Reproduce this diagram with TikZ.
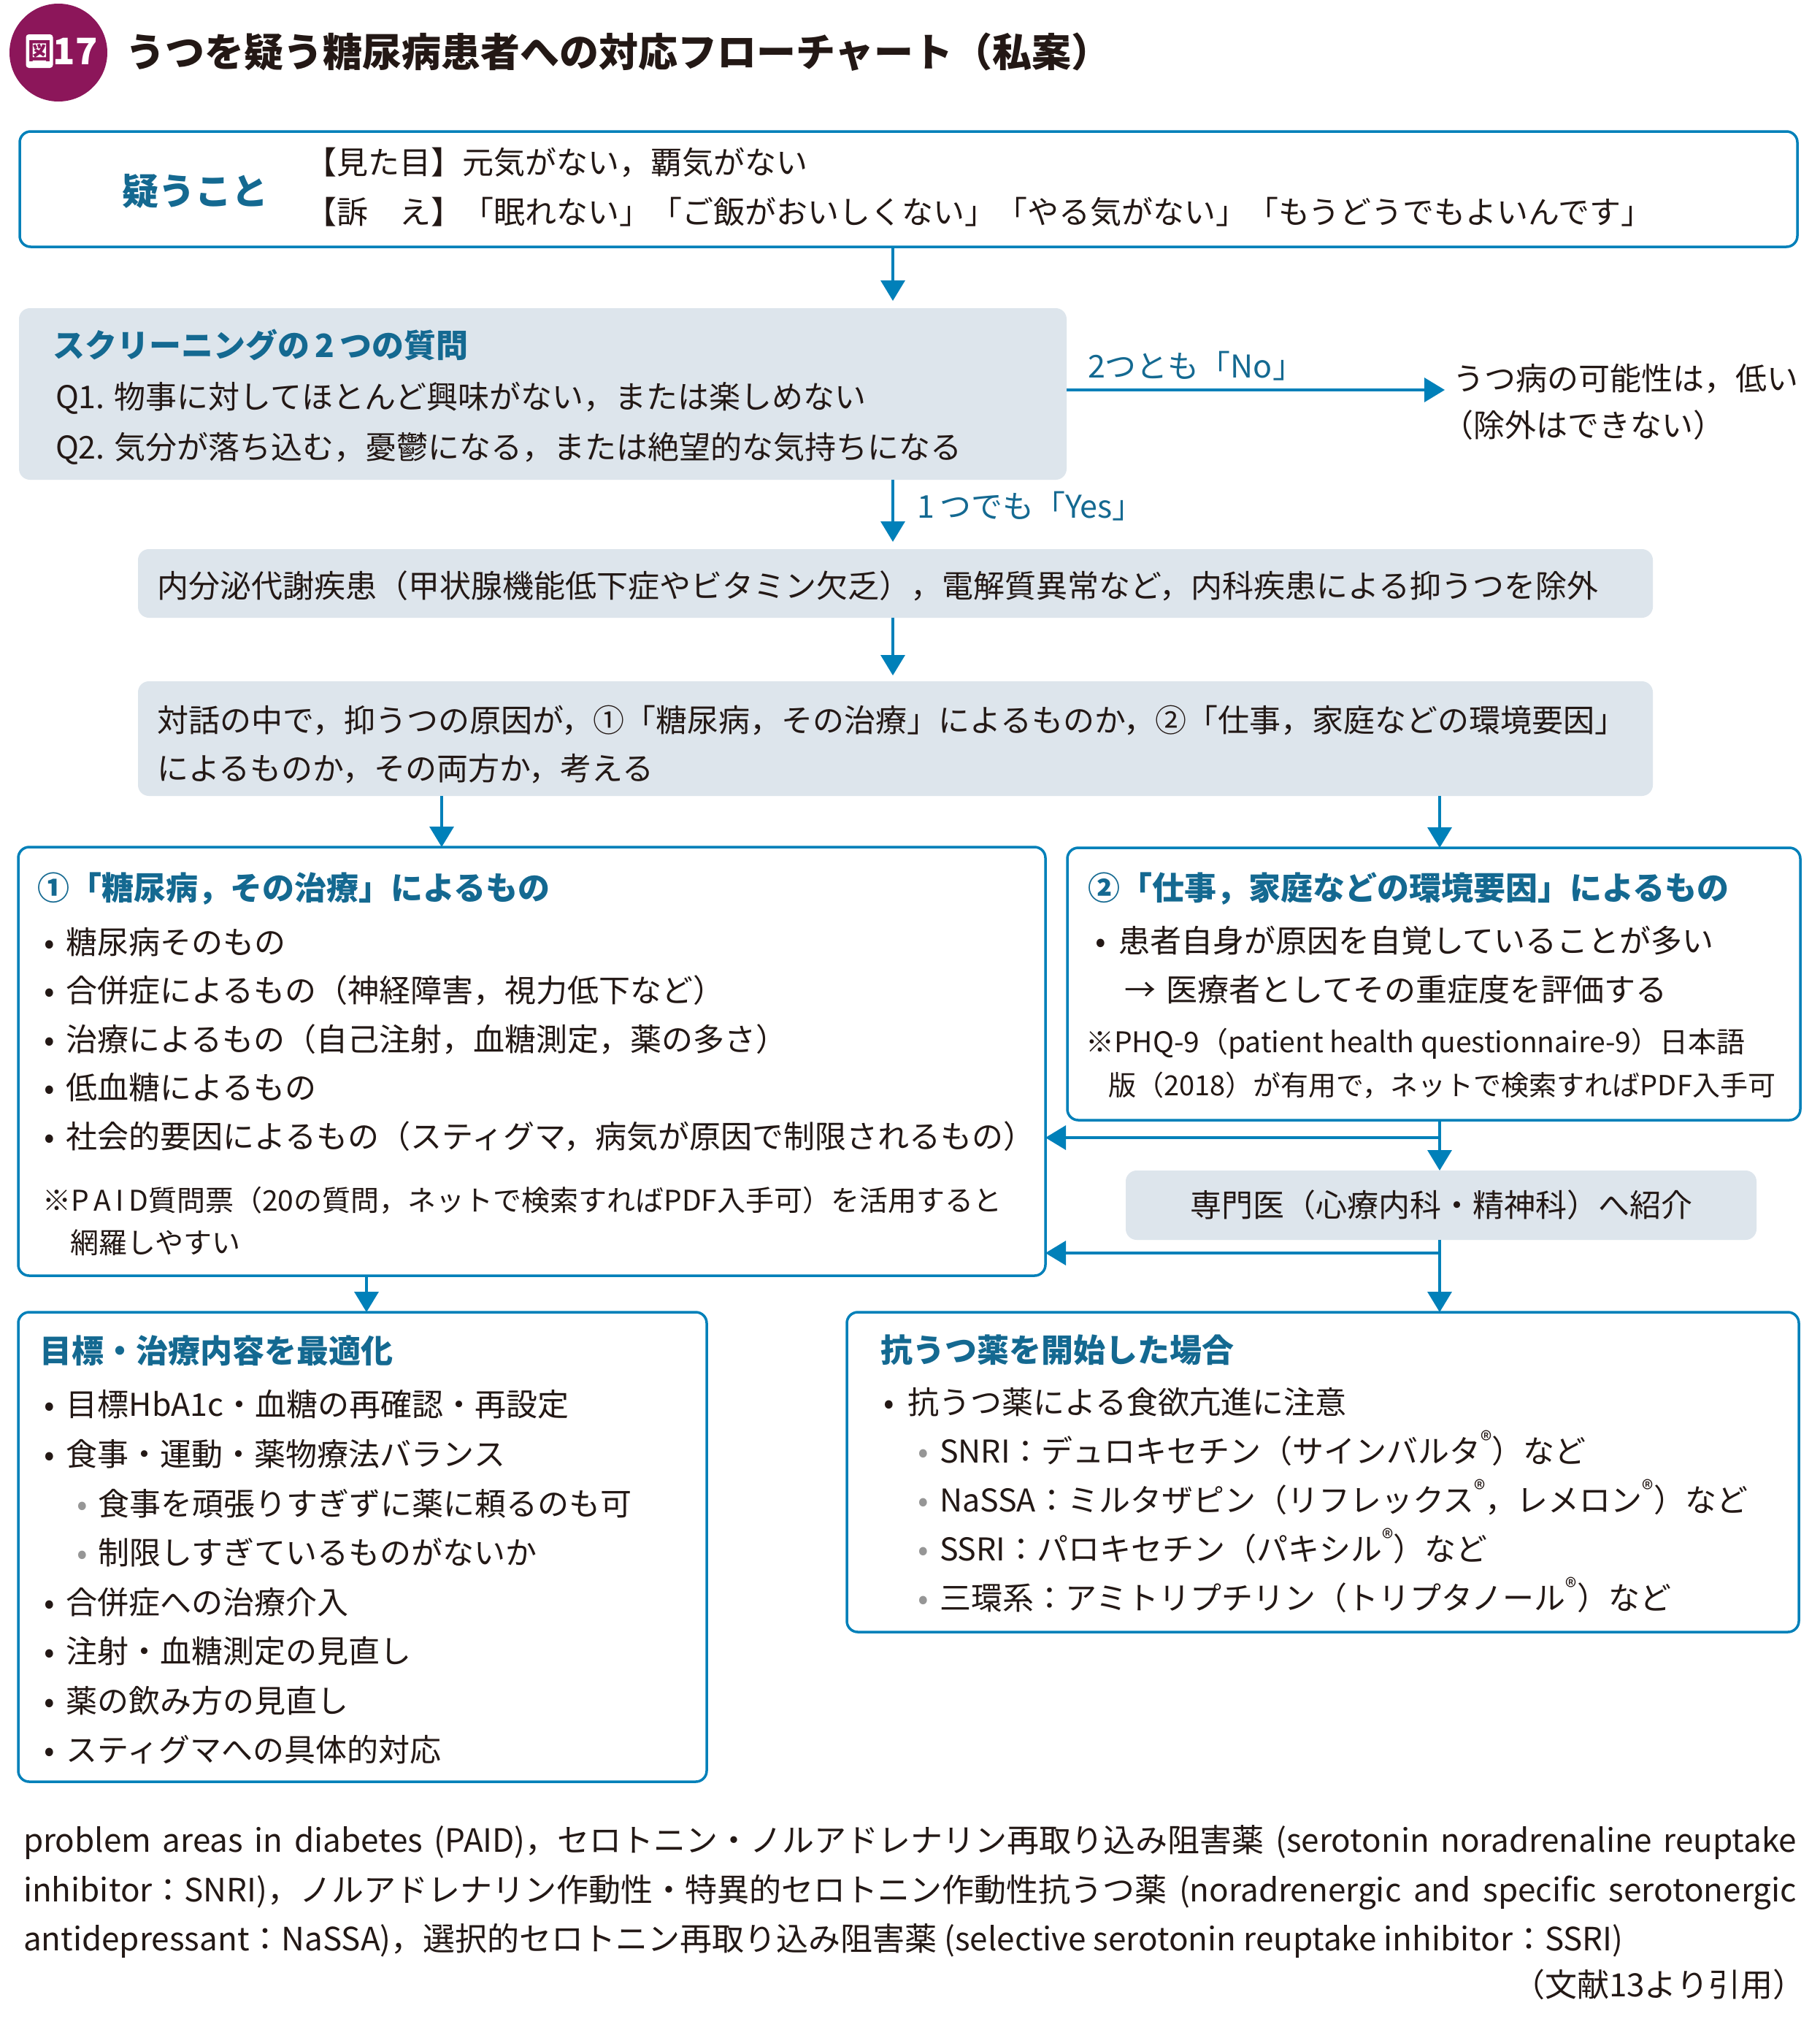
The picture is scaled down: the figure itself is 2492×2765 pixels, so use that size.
\documentclass[tikz,border=0pt]{standalone}
\usepackage{fontspec}
\setmainfont{Noto Sans CJK JP}
\usetikzlibrary{arrows.meta}
\definecolor{lineblue}{RGB}{0,128,185}
\definecolor{headblue}{RGB}{20,105,145}
\definecolor{grayfill}{RGB}{221,229,236}
\definecolor{badge}{RGB}{140,22,90}
\definecolor{ink}{RGB}{35,24,21}
\definecolor{bullgray}{RGB}{150,150,150}
\newcommand{\regm}{\raisebox{0.42em}{\fontsize{32}{32}\selectfont ®}}
\newcommand{\bul}[1]{\makebox[#1pt]{•}}
\newcommand{\gbul}[1]{\makebox[#1pt]{\color{bullgray}•}}
\tikzset{
  txt/.style={inner sep=0pt, outer sep=0pt, anchor=base west, text=ink, font=\fontsize{43}{50}\selectfont},
  head/.style={txt, text=headblue, font=\fontsize{44}{50}\selectfont\bfseries},
  lbl/.style={txt, text=headblue, font=\fontsize{43}{50}\selectfont},
  note/.style={txt, font=\fontsize{39}{46}\selectfont},
  foot/.style={txt, font=\fontsize{44}{50}\selectfont},
  wbox/.style={draw=lineblue, line width=3.5pt, rounded corners=15pt, fill=white, inner sep=0pt, outer sep=0pt, anchor=north west},
  gbox/.style={fill=grayfill, rounded corners=15pt, inner sep=0pt, outer sep=0pt, anchor=north west},
  conn/.style={draw=lineblue, line width=3.5pt},
  arr/.style={conn, -{Triangle[width=33pt,length=28pt]}},
}
\begin{document}
\begin{tikzpicture}[x=1pt,y=-1pt]
\useasboundingbox (0,0) rectangle (2492,2765);
\fill[white] (0,0) rectangle (2492,2765);

% title
\node[circle, fill=badge, minimum size=134pt, inner sep=0pt] (badgec) at (80,72) {};
\node[fill=white, rounded corners=4pt, minimum width=37pt, minimum height=46pt, inner sep=0pt, text=badge, font=\fontsize{32}{32}\selectfont\bfseries] (zu) at (54,70) {図};
\node[inner sep=0pt, text=white, font=\fontsize{50}{50}\selectfont\bfseries] (num) at (103,70) {17};
\node[txt, font=\fontsize{54}{60}\selectfont\bfseries] (title) at (172,91) {うつを疑う糖尿病患者への対応フローチャート（私案）};

% boxes
\node[wbox, minimum width=2435pt, minimum height=158pt] (top) at (27,180) {};
\node[gbox, minimum width=1435pt, minimum height=235pt] (screen) at (26,422) {};
\node[gbox, minimum width=2075pt, minimum height=94pt] (excl) at (189,752) {};
\node[gbox, minimum width=2075pt, minimum height=157pt] (dialog) at (189,933) {};
\node[wbox, minimum width=1407pt, minimum height=587pt] (dm) at (25,1160) {};
\node[wbox, minimum width=1004pt, minimum height=373pt] (env) at (1462,1161) {};
\node[gbox, minimum width=864pt, minimum height=95pt] (spec) at (1542,1603) {};
\node[wbox, minimum width=943pt, minimum height=643pt] (goal) at (25,1797) {};
\node[wbox, minimum width=1304pt, minimum height=438pt] (drug) at (1160,1797) {};

% connector coordinates
\coordinate (xc) at (1223,0);
\coordinate (xl) at (605,0);
\coordinate (xr) at (1972,0);
\coordinate (xb) at (502,0);
\coordinate (noend) at (1979,534);
\coordinate (j1) at (1972,1558);
\coordinate (j2) at (1972,1716);

\draw[arr, shorten >=10pt] (top.south -| xc) -- (screen.north -| xc);
\draw[arr] (screen.east |- noend) -- (noend);
\draw[arr, shorten >=10pt] (screen.south -| xc) -- (excl.north -| xc);
\draw[arr, shorten >=8pt] (excl.south -| xc) -- (dialog.north -| xc);
\draw[arr] (dialog.south -| xl) -- (dm.north -| xl);
\draw[arr] (dialog.south -| xr) -- (env.north -| xr);
\draw[conn] (env.south -| xr) -- (j1);
\draw[arr] (j1) -- (dm.east |- j1);
\draw[arr] (j1) -- (spec.north -| xr);
\draw[conn] (spec.south -| xr) -- (j2);
\draw[arr] (j2) -- (dm.east |- j2);
\draw[arr] (j2) -- (drug.north -| xr);
\draw[arr] (dm.south -| xb) -- (goal.north -| xb);

% top box
\node[txt, text=headblue, font=\fontsize{50}{56}\selectfont\bfseries] (utagau) at (167,280) {疑うこと};
\node[txt] (mitame) at (418,238) {【見た目】元気がない，覇気がない};
\node[txt] (uttae) at (418,306) {【訴\hspace{1em}え】「眠れない」「ご飯がおいしくない」「やる気がない」「もうどうでもよいんです」};

% screening
\node[head] (scrh) at (72,489) {スクリーニングの\,2\,つの質問};
\node[txt] (q1) at (76,559) {Q1. 物事に対してほとんど興味がない，または楽しめない};
\node[txt] (q2) at (76,628) {Q2. 気分が落ち込む，憂鬱になる，または絶望的な気持ちになる};
\node[lbl] (nolbl) at (1490,517) {2つとも「No」};
\node[txt] (low1) at (1990,534) {うつ病の可能性は，低い};
\node[txt] (low2) at (1975,598) {（除外はできない）};
\node[lbl] (yeslbl) at (1256,709) {1\,つでも「Yes」};

% exclusion / dialog
\node[txt] (exclt) at (215,818) {内分泌代謝疾患（甲状腺機能低下症やビタミン欠乏），電解質異常など，内科疾患による抑うつを除外};
\node[txt] (dia1) at (215,1002) {対話の中で，抑うつの原因が，①「糖尿病，その治療」によるものか，②「仕事，家庭などの環境要因」};
\node[txt] (dia2) at (215,1068) {によるものか，その両方か，考える};

% diabetes box
\node[head] (dmh) at (51,1232) {①「糖尿病，その治療」によるもの};
\node[txt] (dm1) at (45,1306) {\bul{46}糖尿病そのもの};
\node[txt] (dm2) at (45,1372) {\bul{46}合併症によるもの（神経障害，視力低下など）};
\node[txt] (dm3) at (45,1439) {\bul{46}治療によるもの（自己注射，血糖測定，薬の多さ）};
\node[txt] (dm4) at (45,1505) {\bul{46}低血糖によるもの};
\node[txt] (dm5) at (45,1572) {\bul{46}社会的要因によるもの（スティグマ，病気が原因で制限されるもの）};
\node[note] (dmn1) at (58,1658) {※P\,A\,I\,D質問票（20の質問，ネットで検索すればPDF入手可）を活用すると};
\node[note] (dmn2) at (96,1716) {網羅しやすい};

% environment box
\node[head] (envh) at (1490,1232) {②「仕事，家庭などの環境要因」によるもの};
\node[txt] (env1) at (1484,1304) {\bul{48}患者自身が原因を自覚していることが多い};
\node[txt] (env2) at (1540,1371) {\makebox[58pt][l]{→}医療者としてその重症度を評価する};
\node[note] (envn1) at (1487,1441) {※PHQ-9（patient health questionnaire-9）日本語};
\node[note, font=\fontsize{38}{46}\selectfont] (envn2) at (1518,1500) {版（2018）が有用で，ネットで検索すればPDF入手可};

% specialist
\node[txt, anchor=center] (spect) at (spec.center) {専門医（心療内科・精神科）へ紹介};

% goal box
\node[head] (goalh) at (54,1866) {目標・治療内容を最適化};
\node[txt] (g1) at (45,1939) {\bul{46}目標HbA1c・血糖の再確認・再設定};
\node[txt] (g2) at (45,2007) {\bul{46}食事・運動・薬物療法バランス};
\node[txt] (g3) at (92,2075) {\gbul{42}食事を頑張りすぎずに薬に頼るのも可};
\node[txt] (g4) at (92,2142) {\gbul{42}制限しすぎているものがないか};
\node[txt] (g5) at (45,2210) {\bul{46}合併症への治療介入};
\node[txt] (g6) at (45,2277) {\bul{46}注射・血糖測定の見直し};
\node[txt] (g7) at (45,2345) {\bul{46}薬の飲み方の見直し};
\node[txt] (g8) at (45,2412) {\bul{46}スティグマへの具体的対応};

% drug box
\node[head] (drugh) at (1206,1865) {抗うつ薬を開始した場合};
\node[txt] (d1) at (1192,1936) {\bul{52}抗うつ薬による食欲亢進に注意};
\node[txt] (d2) at (1243,2003) {\gbul{44}SNRI：デュロキセチン（サインバルタ\regm）など};
\node[txt] (d3) at (1243,2070) {\gbul{44}NaSSA：ミルタザピン（リフレックス\regm，レメロン\regm）など};
\node[txt] (d4) at (1243,2137) {\gbul{44}SSRI：パロキセチン（パキシル\regm）など};
\node[txt] (d5) at (1243,2204) {\gbul{44}三環系：アミトリプチリン（トリプタノール\regm）など};

% footer
\node[foot] (f1) at (32,2536) {\hbox to 2429pt{problem areas in diabetes (PAID)，セロトニン・ノルアドレナリン再取り込み阻害薬 (serotonin noradrenaline reuptake}};
\node[foot] (f2) at (32,2604) {\hbox to 2429pt{inhibitor：SNRI)，ノルアドレナリン作動性・特異的セロトニン作動性抗うつ薬 (noradrenergic and specific serotonergic}};
\node[foot] (f3) at (32,2671) {antidepressant：NaSSA)，選択的セロトニン再取り込み阻害薬 (selective serotonin reuptake inhibitor：SSRI)};
\node[foot, anchor=base east] (f4) at (2472,2734) {（文献13より引用）};
\end{tikzpicture}
\end{document}
